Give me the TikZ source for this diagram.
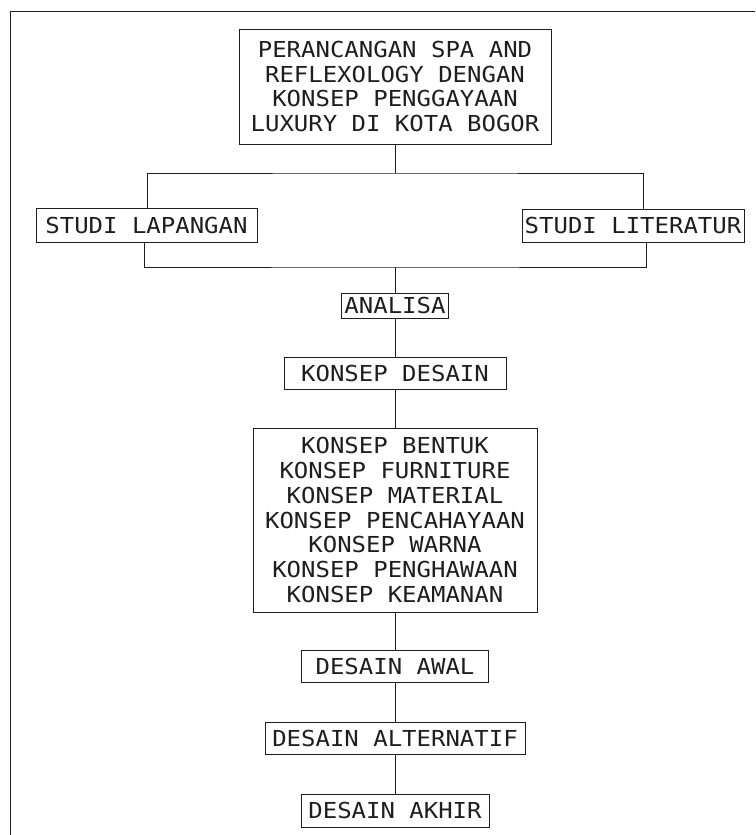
\documentclass[tikz,border=0pt]{standalone}
\usepackage{fontspec}
\newfontfamily\cadfont[FakeStretch=1.09]{DejaVu Sans Mono}
\usetikzlibrary{calc}
\definecolor{ink}{HTML}{1E1E1E}
\tikzset{
  box/.style={draw=ink, line width=0.9pt, inner sep=0pt, align=center, text=ink,
    font=\cadfont\fontsize{22}{24.7}\selectfont},
  link/.style={draw=ink, line width=0.9pt},
}
\begin{document}
\begin{tikzpicture}[x=1pt, y=-1pt]
\useasboundingbox (0,0) rectangle (755,835);
% frame
\draw[link] (755,11) -- (10.5,11) -- (10.5,835);
% nodes
\node[box, minimum width=312pt, minimum height=115pt] (title) at (395,86.5)
  {PERANCANGAN SPA AND\\REFLEXOLOGY DENGAN\\KONSEP PENGGAYAAN\\LUXURY DI KOTA BOGOR};
\node[box, minimum width=221pt, minimum height=34pt] (lap) at (146.5,225) {STUDI LAPANGAN};
\node[box, minimum width=222pt, minimum height=33pt] (lit) at (633,225.5) {STUDI LITERATUR};
\node[box, minimum width=107pt, minimum height=25pt] (analisa) at (395,305.5) {ANALISA};
\node[box, minimum width=222pt, minimum height=32pt] (kdesain) at (395,373) {KONSEP DESAIN};
\node[box, minimum width=284pt, minimum height=184pt] (list) at (395,520)
  {KONSEP BENTUK\\KONSEP FURNITURE\\KONSEP MATERIAL\\KONSEP PENCAHAYAAN\\KONSEP WARNA\\KONSEP PENGHAWAAN\\KONSEP KEAMANAN};
\node[box, minimum width=187pt, minimum height=32pt] (awal) at (395,666) {DESAIN AWAL};
\node[box, minimum width=260pt, minimum height=32pt] (alt) at (395,738) {DESAIN ALTERNATIF};
\node[box, minimum width=188pt, minimum height=33pt] (akhir) at (395,810.5) {DESAIN AKHIR};
% junctions
\coordinate (j1) at (395,173);
\coordinate (j2) at (395,267);
% connectors
\draw[link] (title.south) -- (j1);
\draw[link] ([xshift=0.5pt]lap.north) |- (j1) -| ([xshift=10pt]lit.north);
\draw[link] ([xshift=-2.5pt]lap.south) |- (j2) -| ([xshift=13pt]lit.south);
\draw[link] (j2) -- (analisa.north);
\draw[link] (analisa.south) -- (kdesain.north);
\draw[link] (kdesain.south) -- (list.north);
\draw[link] (list.south) -- (awal.north);
\draw[link] (awal.south) -- (alt.north);
\draw[link] (alt.south) -- (akhir.north);
\end{tikzpicture}
\end{document}
